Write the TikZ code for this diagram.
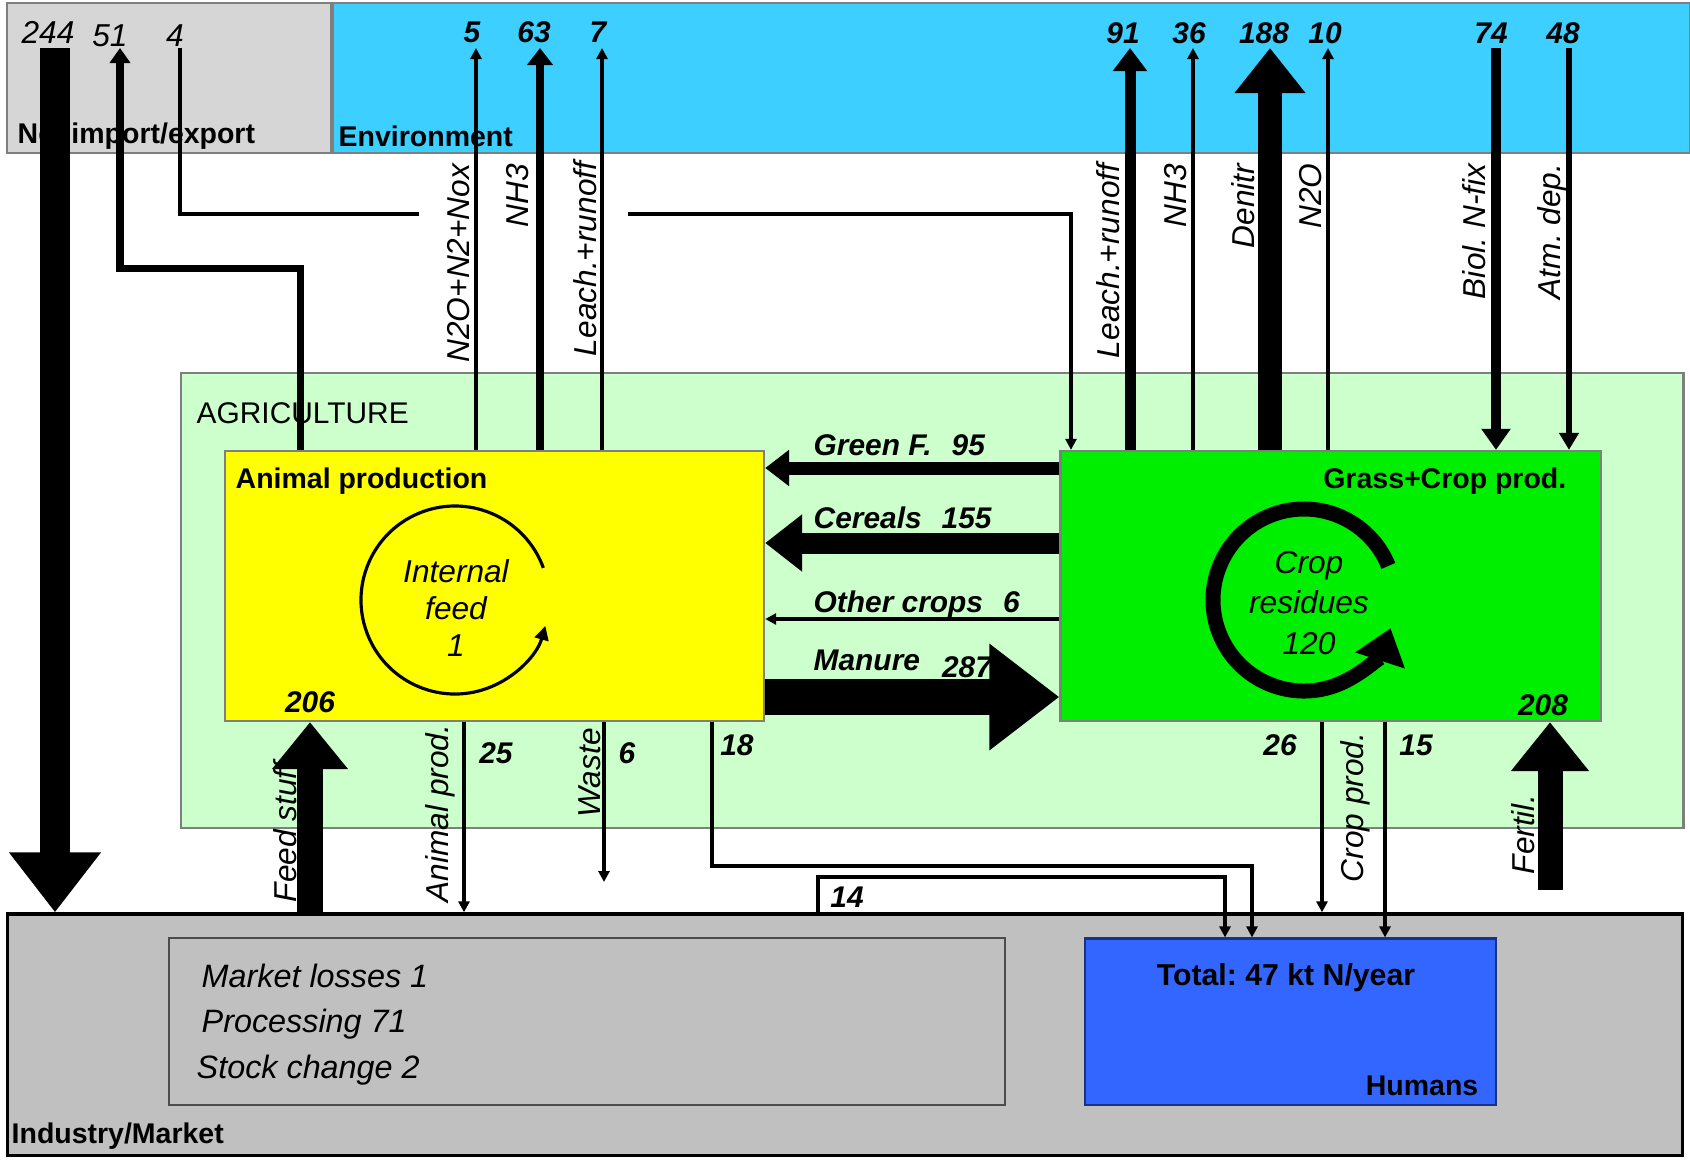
\documentclass[tikz,border=0pt]{standalone}
\usepackage{fontspec}
\setmainfont{Liberation Sans}
\usepackage{tikz}
\usetikzlibrary{positioning,arrows.meta,calc}
\definecolor{cimp}{HTML}{D6D6D6}
\definecolor{cenv}{HTML}{3CCFFF}
\definecolor{cagri}{HTML}{CCFFCC}
\definecolor{canim}{HTML}{FFFF00}
\definecolor{ccrop}{HTML}{00EE00}
\definecolor{cind}{HTML}{C0C0C0}
\definecolor{chum}{HTML}{3366FF}
\definecolor{cgris}{HTML}{7F7F7F}
\tikzset{
  caja/.style={rectangle, draw=cgris, line width=0.6pt, inner sep=0pt},
  tit/.style={font=\bfseries\fontsize{8.1}{10}\selectfont, inner sep=0pt},
  etq/.style={font=\itshape\fontsize{9}{10}\selectfont, inner sep=0pt},
  etqv/.style={etq, rotate=90},
  etqm/.style={font=\bfseries\itshape\fontsize{8.5}{10}\selectfont, inner sep=0pt, anchor=base west},
  cifra/.style={font=\bfseries\itshape\fontsize{8.5}{10}\selectfont, inner sep=0pt, anchor=base},
  cifral/.style={font=\itshape\fontsize{9}{10}\selectfont, inner sep=0pt, anchor=base},
  lin/.style={line width=0.9pt},
  fin/.style={line width=0.9pt, -{Triangle[width=1.1mm,length=1.1mm]}},
  gru/.style n args={3}{line width=#1mm, -{Triangle[width=#2mm,length=#3mm]}},
}

\begin{document}
\frenchspacing
\begin{tikzpicture}[x=0.01cm, y=-0.01cm, node distance=0.78cm]
  \useasboundingbox (0,0) rectangle (1690,1160);
  \node[caja, fill=cimp, minimum width=3.24cm, minimum height=1.5cm] (imp) at (169,78) {};
  \node[caja, fill=cenv, minimum width=13.56cm, minimum height=1.5cm, right=0pt of imp] (env) {};
  \node[caja, fill=cagri, minimum width=15.02cm, minimum height=4.55cm] (agri) at (932,600.5) {};
  \node[caja, fill=canim, minimum width=5.39cm, minimum height=2.7cm] (anim) at (494.5,586) {};
  \node[caja, fill=ccrop, minimum width=5.4cm, minimum height=2.7cm, right=2.94cm of anim] (crop) {};
  \node[caja, draw=black, line width=0.9pt, fill=cind, minimum width=16.74cm, minimum height=2.41cm] (ind) at (845,1034.5) {};
  \node[caja, draw=cgris!60!black, fill=cind, minimum width=8.36cm, minimum height=1.67cm] (loss) at (587,1021.5) {};
  \node[caja, draw=chum!50!black, fill=chum, minimum width=4.1cm, minimum height=1.66cm, right=of loss] (hum) {};

  \node[tit, anchor=base west] (timp) at (17,143) {Net import/export};
  \node[tit, anchor=base west] (tenv) at (338,146) {Environment};
  \node[tit, font=\fontsize{8.5}{10}\selectfont, anchor=base west] (tagri) at (196,423) {AGRICULTURE};
  \node[tit, anchor=base west] (tanim) at (235,488) {Animal production};
  \node[tit, anchor=base east] (tcrop) at (1567,488) {Grass+Crop prod.};
  \node[tit, anchor=base west] (tind) at (11,1143) {Industry/Market};
  \node[tit, font=\bfseries\fontsize{8.6}{10}\selectfont, anchor=base] (ttot) at (1286,985) {Total: 47 kt N/year};
  \node[tit, anchor=base east] (thum) at (1479,1095) {Humans};

  \node[etq, align=center, font=\itshape\fontsize{9}{10.6}\selectfont] (ifeed) at (456,608) {Internal\\feed\\1};
  \node[etq, align=center, font=\itshape\fontsize{9}{11.5}\selectfont] (cres) at (1309,603) {Crop\\residues\\120};

  \node[cifral] (n244) at (48,43) {244};
  \node[cifral] (n51) at (110,46) {51};
  \node[cifral] (n4) at (175,46) {4};
  \node[cifra] (n5) at (472,42) {5};
  \node[cifra] (n63) at (534,42) {63};
  \node[cifra] (n7) at (598,42) {7};
  \node[cifra] (n91) at (1123,43) {91};
  \node[cifra] (n36) at (1189,43) {36};
  \node[cifra] (n188) at (1264,43) {188};
  \node[cifra] (n10) at (1325,43) {10};
  \node[cifra] (n74) at (1491,43) {74};
  \node[cifra] (n48) at (1563,43) {48};
  \node[cifra] (n206) at (310,712) {206};
  \node[cifra] (n208) at (1543,715) {208};
  \node[cifra] (n25) at (496,763) {25};
  \node[cifra] (n6) at (627,763) {6};
  \node[cifra] (n18) at (737,755) {18};
  \node[cifra] (n14) at (847,907) {14};
  \node[cifra] (n26) at (1280,755) {26};
  \node[cifra] (n15) at (1416,755) {15};

  \node[etqv, anchor=east] (lnox) at (459,163) {N2O+N2+Nox};
  \node[etqv, anchor=east] (lnh3a) at (518,163) {NH3};
  \node[etqv, anchor=east] (llra) at (585,161) {Leach.+runoff};
  \node[etqv, anchor=east] (llrc) at (1108,163) {Leach.+runoff};
  \node[etqv, anchor=east] (lnh3c) at (1176,163) {NH3};
  \node[etqv, anchor=east] (lden) at (1243,163) {Denitr};
  \node[etqv, anchor=east] (ln2o) at (1311,163) {N2O};
  \node[etqv, anchor=east] (lbio) at (1474,163) {Biol. N-fix};
  \node[etqv, anchor=east] (latm) at (1552,163) {Atm. dep.};
  \node[etqv, anchor=west] (lfs) at (285,903) {Feed stuff};
  \node[etqv, anchor=west] (lap) at (440,903) {Animal prod.};
  \node[etqv, anchor=west] (lws) at (590,818) {Waste};
  \node[etqv, anchor=west] (lcp) at (1355,883) {Crop prod.};
  \node[etqv, anchor=west] (lfe) at (1523,875) {Fertil.};

  \node[etqm] (lgf) at (813,455) {Green F.\hspace{2mm}95};
  \node[etqm] (lce) at (813,528) {Cereals\hspace{2mm}155};
  \node[etqm] (loc) at (813,612) {Other crops\hspace{2mm}6};
  \node[etqm] (lmn) at (813,670) {Manure\hspace{2.2mm}\raisebox{-2pt}{287}};

  \node[etq, font=\itshape\fontsize{9.2}{10}\selectfont, anchor=base west] (lml) at (201,987) {Market losses 1};
  \node[etq, font=\itshape\fontsize{9.2}{10}\selectfont, anchor=base west] (lpr) at (201,1032) {Processing 71};
  \node[etq, font=\itshape\fontsize{9.2}{10}\selectfont, anchor=base west] (lsc) at (196,1078) {Stock change 2};

  \coordinate (t244) at (55,48);
  \coordinate (t51) at (120,48);
  \coordinate (a51) at (300,268);
  \coordinate (t4) at (180,48);
  \coordinate (g1) at (419,214);
  \coordinate (g2) at (628,214);
  \coordinate (c4) at (1071,214);
  \coordinate (t5) at (476,48);
  \coordinate (t63) at (540,48);
  \coordinate (t7) at (602,48);
  \coordinate (t91) at (1130,48);
  \coordinate (t36) at (1193,48);
  \coordinate (t188) at (1270,48);
  \coordinate (t10) at (1328,48);
  \coordinate (t74) at (1496,48);
  \coordinate (t48) at (1569,48);
  \coordinate (gf) at (0,468);
  \coordinate (ce) at (0,543);
  \coordinate (oc) at (0,619);
  \coordinate (mn) at (0,697);
  \coordinate (fs) at (310,0);
  \coordinate (c25) at (464,0);
  \coordinate (ws) at (604,882);
  \coordinate (r18) at (712,866);
  \coordinate (h18) at (1252,0);
  \coordinate (r14) at (818,877);
  \coordinate (h14) at (1225,0);
  \coordinate (c26) at (1322,0);
  \coordinate (c15) at (1385,0);
  \coordinate (fe) at (1550,890);
  \coordinate (cif) at (455,600);
  \coordinate (ccr) at (1304,600);

  \draw[gru={3.0}{8.8}{6.0}] (t244) -- (ind.north -| t244);
  \draw[gru={0.7}{2.0}{1.5}] (anim.north -| a51) -- (a51) -| (t51);
  \draw[lin] (t4) |- (g1);
  \draw[fin] (g2) -| (crop.north -| c4);
  \draw[fin] (anim.north -| t5) -- (t5);
  \draw[gru={0.75}{2.5}{1.7}] (anim.north -| t63) -- (t63);
  \draw[fin] (anim.north -| t7) -- (t7);
  \draw[gru={1.1}{3.3}{2.3}] (crop.north -| t91) -- (t91);
  \draw[fin] (crop.north -| t36) -- (t36);
  \draw[gru={2.4}{6.8}{4.5}] (crop.north -| t188) -- (t188);
  \draw[fin] (crop.north -| t10) -- (t10);
  \draw[gru={1.0}{2.8}{2.1}] (t74) -- (crop.north -| t74);
  \draw[gru={0.6}{1.9}{1.7}] (t48) -- (crop.north -| t48);
  \draw[gru={1.3}{3.5}{2.4}] (crop.west |- gf) -- (anim.east |- gf);
  \draw[gru={2.1}{5.5}{3.7}] (crop.west |- ce) -- (anim.east |- ce);
  \draw[fin] (crop.west |- oc) -- (anim.east |- oc);
  \draw[gru={3.6}{10.2}{7.0}] (anim.east |- mn) -- (crop.west |- mn);
  \draw[gru={2.6}{7.3}{4.7}] (ind.north -| fs) -- (anim.south -| fs);
  \draw[fin] (anim.south -| c25) -- (ind.north -| c25);
  \draw[fin] (anim.south -| ws) -- (ws);
  \draw[fin] (anim.south -| r18) -- (r18) -| (hum.north -| h18);
  \draw[fin] (ind.north -| r14) -- (r14) -| (hum.north -| h14);
  \draw[fin] (crop.south -| c26) -- (ind.north -| c26);
  \draw[fin] (crop.south -| c15) -- (hum.north -| c15);
  \draw[gru={2.5}{7.5}{4.9}] (fe) -- (crop.south -| fe);
  \draw[line width=0.9pt, -{Triangle[width=1.4mm,length=1.4mm]}] ($(cif)+(-20:94)$) arc[start angle=-20, end angle=-344, radius=94];
  \draw[line width=1.5mm, -{Triangle[width=5mm,length=3.4mm]}] ($(ccr)+(-22:91)$) arc[start angle=-22, end angle=-342, radius=91];
\end{tikzpicture}
\end{document}
